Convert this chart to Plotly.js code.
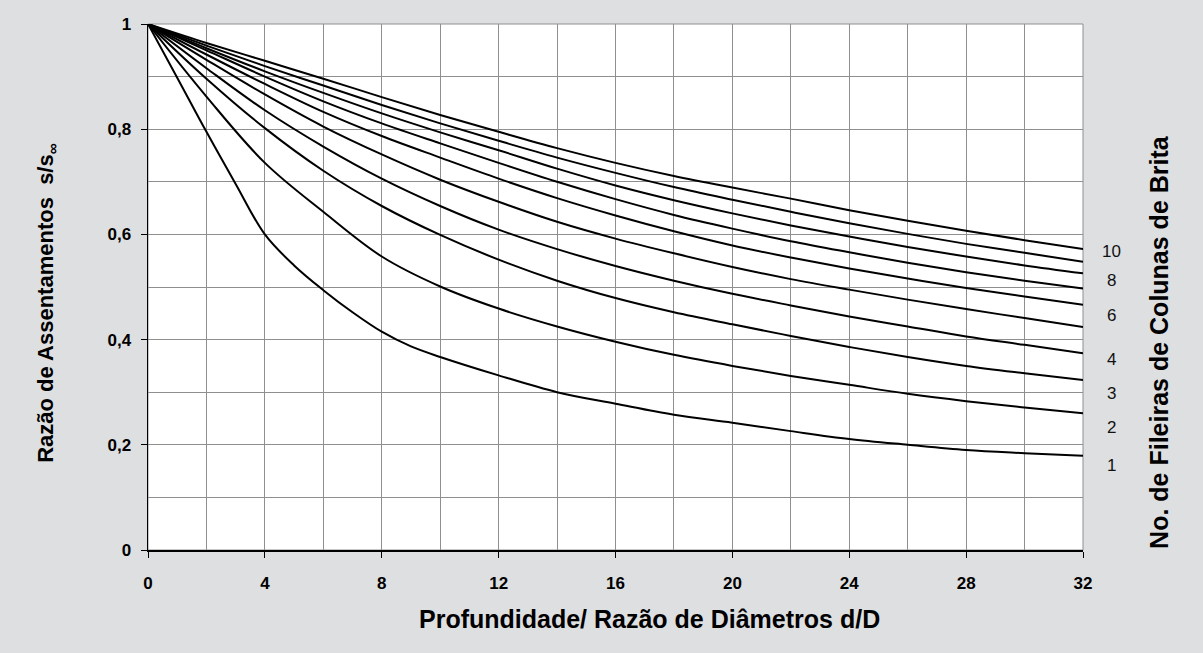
<!DOCTYPE html>
<html>
<head>
<meta charset="utf-8">
<script src="https://cdn.plot.ly/plotly-3.0.1.min.js"></script>
<style>html,body{margin:0;padding:0;background:#dedfe1;}#chart{width:1203px;height:653px;}</style>
</head>
<body>
<div id="chart"></div>
<script>
// Depth / diameter ratio d/D
const depthRatio = [0, 2, 4, 6, 8, 10, 12, 14, 16, 18, 20, 22, 24, 26, 28, 30, 32];
// Finer reading for the steepest curve (1 row)
const depthRatio1 = [0, 1, 2, 3, 4, 5, 6, 7, 8, 9, 10, 12, 14, 16, 18, 20, 22, 24, 26, 28, 30, 32];

// Settlement ratio s/s∞ for each number of stone-column rows (1..10)
const rows1  = [1, 0.898, 0.795, 0.696, 0.600, 0.541, 0.494, 0.452, 0.415, 0.387, 0.367, 0.332, 0.300, 0.278, 0.257, 0.242, 0.226, 0.211, 0.200, 0.190, 0.184, 0.179];
const rows2  = [1, 0.862, 0.736, 0.643, 0.558, 0.501, 0.459, 0.425, 0.396, 0.371, 0.350, 0.331, 0.314, 0.297, 0.283, 0.271, 0.260];
const rows3  = [1, 0.896, 0.802, 0.721, 0.654, 0.599, 0.552, 0.512, 0.479, 0.452, 0.429, 0.407, 0.386, 0.367, 0.350, 0.336, 0.323];
const rows4  = [1, 0.916, 0.836, 0.767, 0.706, 0.654, 0.609, 0.572, 0.540, 0.512, 0.487, 0.465, 0.444, 0.425, 0.406, 0.390, 0.374];
const rows5  = [1, 0.932, 0.866, 0.805, 0.752, 0.704, 0.662, 0.624, 0.592, 0.564, 0.538, 0.515, 0.495, 0.476, 0.458, 0.441, 0.424];
const rows6  = [1, 0.942, 0.886, 0.833, 0.787, 0.746, 0.706, 0.669, 0.636, 0.606, 0.579, 0.556, 0.535, 0.516, 0.498, 0.482, 0.466];
const rows7  = [1, 0.950, 0.900, 0.853, 0.811, 0.773, 0.736, 0.700, 0.667, 0.637, 0.611, 0.587, 0.566, 0.546, 0.528, 0.512, 0.497];
const rows8  = [1, 0.954, 0.910, 0.869, 0.830, 0.794, 0.760, 0.725, 0.693, 0.665, 0.640, 0.617, 0.596, 0.576, 0.558, 0.541, 0.526];
const rows9  = [1, 0.959, 0.920, 0.883, 0.846, 0.811, 0.778, 0.746, 0.717, 0.690, 0.666, 0.643, 0.621, 0.601, 0.582, 0.565, 0.548];
const rows10 = [1, 0.964, 0.930, 0.896, 0.861, 0.827, 0.795, 0.764, 0.736, 0.711, 0.689, 0.668, 0.646, 0.626, 0.607, 0.589, 0.572];

const allRows = [rows1, rows2, rows3, rows4, rows5, rows6, rows7, rows8, rows9, rows10];

// Curve labels shown at the right edge
const rowLabels = ['10', '8', '6', '4', '3', '2', '1'];
const rowLabelY = [0.567, 0.512, 0.445, 0.363, 0.297, 0.233, 0.161];

const xTickVals = [0, 4, 8, 12, 16, 20, 24, 28, 32];
const yTickVals = [0, 0.2, 0.4, 0.6, 0.8, 1];

const xTitle = 'Profundidade/ Razão de Diâmetros d/D';
const yTitle = 'Razão de Assentamentos  s/s<sub>∞</sub>';
const rightTitle = 'No. de Fileiras de Colunas de Brita';

const traces = allRows.map((r, i) => ({
  x: i === 0 ? depthRatio1 : depthRatio, y: r, type: 'scatter', mode: 'lines',
  line: {color: '#000', width: 2, shape: 'spline', smoothing: 1},
  name: String(i + 1), showlegend: false, hoverinfo: 'x+y'
}));

const FONT = 'Liberation Sans, Arial, sans-serif';
const gridCol = '#8f8f8f';
const tickFont = {family: FONT, size: 17, color: '#000', weight: 'bold'};

const annotations = rowLabels.map((t, i) => ({
  text: t, xref: 'paper', yref: 'y', x: 1.031, y: rowLabelY[i],
  xanchor: 'center', yanchor: 'middle', showarrow: false,
  font: {family: FONT, size: 17, color: '#111'}
}));
annotations.push({
  text: '<b>' + rightTitle + '</b>', xref: 'paper', yref: 'paper',
  x: 1.082, y: 0.395, textangle: -90, showarrow: false, xanchor: 'center', yanchor: 'middle',
  font: {family: FONT, size: 25, color: '#000'}
});
annotations.push({
  text: '<b>' + xTitle + '</b>', xref: 'paper', yref: 'paper',
  x: 0.536, y: -0.131, showarrow: false, xanchor: 'center', yanchor: 'middle',
  font: {family: FONT, size: 25, color: '#000'}
});
annotations.push({
  text: '<b>' + yTitle + '</b>', xref: 'paper', yref: 'paper',
  x: -0.108, y: 0.47, textangle: -90, showarrow: false, xanchor: 'center', yanchor: 'middle',
  font: {family: FONT, size: 22, color: '#000'}
});

const layout = {
  width: 1203, height: 653,
  paper_bgcolor: '#dedfe1', plot_bgcolor: '#ffffff',
  margin: {l: 148, r: 120, t: 24, b: 103},
  separators: ',.',
  showlegend: false,
  xaxis: {
    range: [0, 32], tickvals: xTickVals, ticks: 'outside', ticklen: 6, tickcolor: '#000',
    showline: true, linecolor: '#000', linewidth: 1.5,
    showgrid: true, gridcolor: gridCol, gridwidth: 1,
    minor: {dtick: 2, showgrid: true, gridcolor: gridCol, gridwidth: 1},
    tickfont: tickFont, ticklabelstandoff: 11, zeroline: false, automargin: false
  },
  yaxis: {
    range: [0, 1], tickvals: yTickVals, ticks: 'outside', ticklen: 6, tickcolor: '#000',
    showline: true, linecolor: '#000', linewidth: 1.5,
    showgrid: true, gridcolor: gridCol, gridwidth: 1,
    minor: {dtick: 0.1, showgrid: true, gridcolor: gridCol, gridwidth: 1},
    tickfont: tickFont, ticklabelstandoff: 6, zeroline: false, automargin: false
  },
  shapes: [{type: 'rect', xref: 'paper', yref: 'paper', x0: 0, x1: 1, y0: 0, y1: 1,
            line: {color: gridCol, width: 1}, layer: 'below'}],
  annotations: annotations
};

Plotly.newPlot('chart', traces, layout, {displayModeBar: false, staticPlot: true});
</script>
</body>
</html>
